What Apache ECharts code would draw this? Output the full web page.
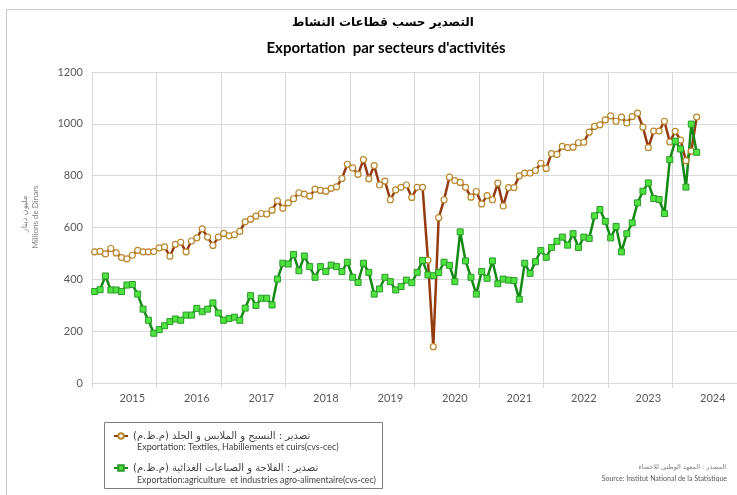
<!DOCTYPE html>
<html>
<head>
<meta charset="utf-8">
<script src="https://cdn.jsdelivr.net/npm/echarts@6/dist/echarts.min.js"></script>
<style>
  html, body { margin: 0; padding: 0; background: #fff; }
  #chart { width: 737px; height: 495px; }
</style>
</head>
<body>
<div id="chart"></div>
<script>
// RLM keeps the Arabic strings (and their brackets) right-to-left on the canvas
const RLM = '\u200F';

const years = ['2015', '2016', '2017', '2018', '2019', '2020', '2021', '2022', '2023', '2024'];
const months = [];
years.forEach(function (y) {
  for (let m = 1; m <= 12; m++) months.push(y + '-' + (m < 10 ? '0' + m : m));
});

// Textiles, habillements et cuirs (cvs-cec), Jan 2015 - May 2024
const textiles = [
  506, 508, 498, 519, 502, 484, 479, 493, 512, 506, 506, 507,
  521, 525, 489, 535, 543, 506, 548, 560, 595, 563, 531, 563,
  577, 568, 572, 585, 622, 632, 644, 654, 652, 667, 703, 674,
  695, 711, 734, 729, 721, 748, 743, 740, 751, 757, 789, 844,
  830, 805, 862, 788, 839, 764, 779, 707, 745, 755, 764, 716,
  755, 755, 474, 140, 638, 707, 794, 781, 774, 755, 717, 739,
  691, 723, 707, 771, 683, 754, 754, 799, 810, 810, 820, 848,
  828, 885, 882, 913, 908, 910, 927, 929, 968, 990, 996, 1015,
  1031, 1010, 1026, 1003, 1028, 1041, 987, 908, 972, 972, 1010, 930,
  971, 937, 858, 895, 1026
];

// Agriculture et industries agro-alimentaires (cvs-cec)
const agro = [
  353, 360, 413, 359, 359, 353, 378, 380, 343, 285, 242, 192,
  206, 221, 237, 247, 242, 262, 262, 288, 275, 285, 309, 270,
  242, 249, 254, 242, 289, 337, 299, 327, 327, 301, 401, 462,
  459, 496, 433, 490, 449, 408, 449, 430, 455, 449, 430, 466,
  408, 388, 462, 427, 343, 363, 408, 391, 359, 372, 397, 387,
  427, 473, 417, 414, 426, 466, 454, 391, 583, 471, 408, 343,
  430, 404, 471, 383, 401, 397, 395, 323, 462, 423, 468, 511,
  485, 523, 547, 563, 532, 576, 523, 563, 558, 645, 669, 624,
  560, 604, 506, 576, 618, 695, 740, 772, 712, 708, 654, 862,
  933, 903, 756, 999, 890
];

const yTicks = [0, 200, 400, 600, 800, 1000, 1200];

const nameTextiles = RLM + 'تصدير : النسيج و الملابس و الجلد (م.ظ.م)' + RLM;
const nameAgro = RLM + 'تصدير : الفلاحة و الصناعات الغذائية (م.ظ.م)' + RLM;
const frTextiles = 'Exportation: Textiles, Habillements et cuirs(cvs-cec)';
const frAgro = 'Exportation:agriculture  et industries agro-alimentaire(cvs-cec)';

const gridColor = '#d9d9d9';
const labelColor = '#595959';
const latin = 'Lato, "Open Sans", sans-serif';
const arabic = '"DejaVu Sans", sans-serif';

const chart = echarts.init(document.getElementById('chart'));
chart.setOption({
  animation: false,
  backgroundColor: '#fff',
  grid: { left: 92, right: 0, top: 72, bottom: 112, containLabel: false },
  legend: {
    data: [nameTextiles, nameAgro],
    orient: 'vertical',
    left: 108,
    top: 426,
    itemWidth: 14,
    itemHeight: 7,
    itemGap: 22,
    selectedMode: false,
    textStyle: { fontFamily: arabic, fontSize: 10, color: '#404040' }
  },
  xAxis: {
    type: 'category',
    data: months,
    boundaryGap: true,
    axisLine: { lineStyle: { color: gridColor } },
    axisTick: {
      show: true,
      length: 5,
      interval: function (i) { return i % 12 === 0; },
      lineStyle: { color: gridColor }
    },
    splitLine: {
      show: true,
      interval: function (i) { return i % 12 === 0; },
      lineStyle: { color: gridColor }
    },
    axisLabel: {
      interval: function (i) { return i % 12 === 7; },
      formatter: function (v) { return v.slice(0, 4); },
      color: labelColor,
      fontFamily: latin,
      fontSize: 11,
      margin: 10
    }
  },
  yAxis: {
    type: 'value',
    min: yTicks[0],
    max: yTicks[yTicks.length - 1],
    interval: 200,
    axisLine: { show: true, lineStyle: { color: gridColor } },
    axisTick: { show: false },
    splitLine: { lineStyle: { color: gridColor } },
    axisLabel: {
      formatter: function (v) { return String(v); },
      color: labelColor, fontFamily: latin, fontSize: 11, margin: 9
    }
  },
  series: [
    {
      name: nameTextiles,
      type: 'line',
      data: textiles,
      symbol: 'circle',
      symbolSize: 6,
      showAllSymbol: true,
      lineStyle: { color: '#933a0e', width: 2.5 },
      itemStyle: { color: '#ffffff', borderColor: '#b8862b', borderWidth: 1.2 }
    },
    {
      name: nameAgro,
      type: 'line',
      data: agro,
      symbol: 'rect',
      symbolSize: 6,
      showAllSymbol: true,
      lineStyle: { color: '#138a13', width: 2.5 },
      itemStyle: { color: '#4fe33f', borderColor: '#2b9a2b', borderWidth: 1 }
    }
  ],
  graphic: [
    {
      type: 'rect', silent: true,
      shape: { x: 6.5, y: 9.5, width: 740, height: 500 },
      style: { fill: null, stroke: '#c8c8c8', lineWidth: 1 }
    },
    {
      type: 'text', x: 383, y: 23,
      style: { text: 'التصدير حسب قطاعات النشاط', align: 'center', verticalAlign: 'middle',
               font: 'bold 12px "DejaVu Sans", sans-serif', fill: '#000' }
    },
    {
      type: 'text', x: 386, y: 48,
      style: { text: "Exportation  par secteurs d'activités", align: 'center', verticalAlign: 'middle',
               font: 'bold 15px Lato, sans-serif', fill: '#000' }
    },
    {
      type: 'text', x: 25, y: 214, rotation: Math.PI / 2,
      style: { text: RLM + 'مليون دينار' + RLM, align: 'center', verticalAlign: 'middle',
               font: '8px "DejaVu Sans", sans-serif', fill: '#7f7f7f' }
    },
    {
      type: 'text', x: 35, y: 217, rotation: Math.PI / 2,
      style: { text: 'Millions de Dinars', align: 'center', verticalAlign: 'middle',
               font: '8px Lato, sans-serif', fill: '#7f7f7f' }
    },
    {
      type: 'rect', silent: true,
      shape: { x: 104.5, y: 422.5, width: 278, height: 66 },
      style: { fill: null, stroke: '#7f7f7f', lineWidth: 1 }
    },
    {
      type: 'text', x: 137, y: 447,
      style: { text: frTextiles, align: 'left', verticalAlign: 'middle',
               font: '9px Lato, sans-serif', fill: '#404040' }
    },
    {
      type: 'text', x: 137, y: 480,
      style: { text: frAgro, align: 'left', verticalAlign: 'middle',
               font: '8.8px Lato, sans-serif', fill: '#404040' }
    },
    {
      type: 'text', x: 726, y: 467,
      style: { text: RLM + 'المصدر : المعهد الوطني للاحصاء' + RLM, align: 'right', verticalAlign: 'middle',
               font: '6.5px "DejaVu Sans", sans-serif', fill: '#7f7f7f' }
    },
    {
      type: 'text', x: 727, y: 479,
      style: { text: 'Source: Institut National de la Statistique', align: 'right', verticalAlign: 'middle',
               font: '7px Lato, sans-serif', fill: '#595959' }
    }
  ]
});
</script>
</body>
</html>
